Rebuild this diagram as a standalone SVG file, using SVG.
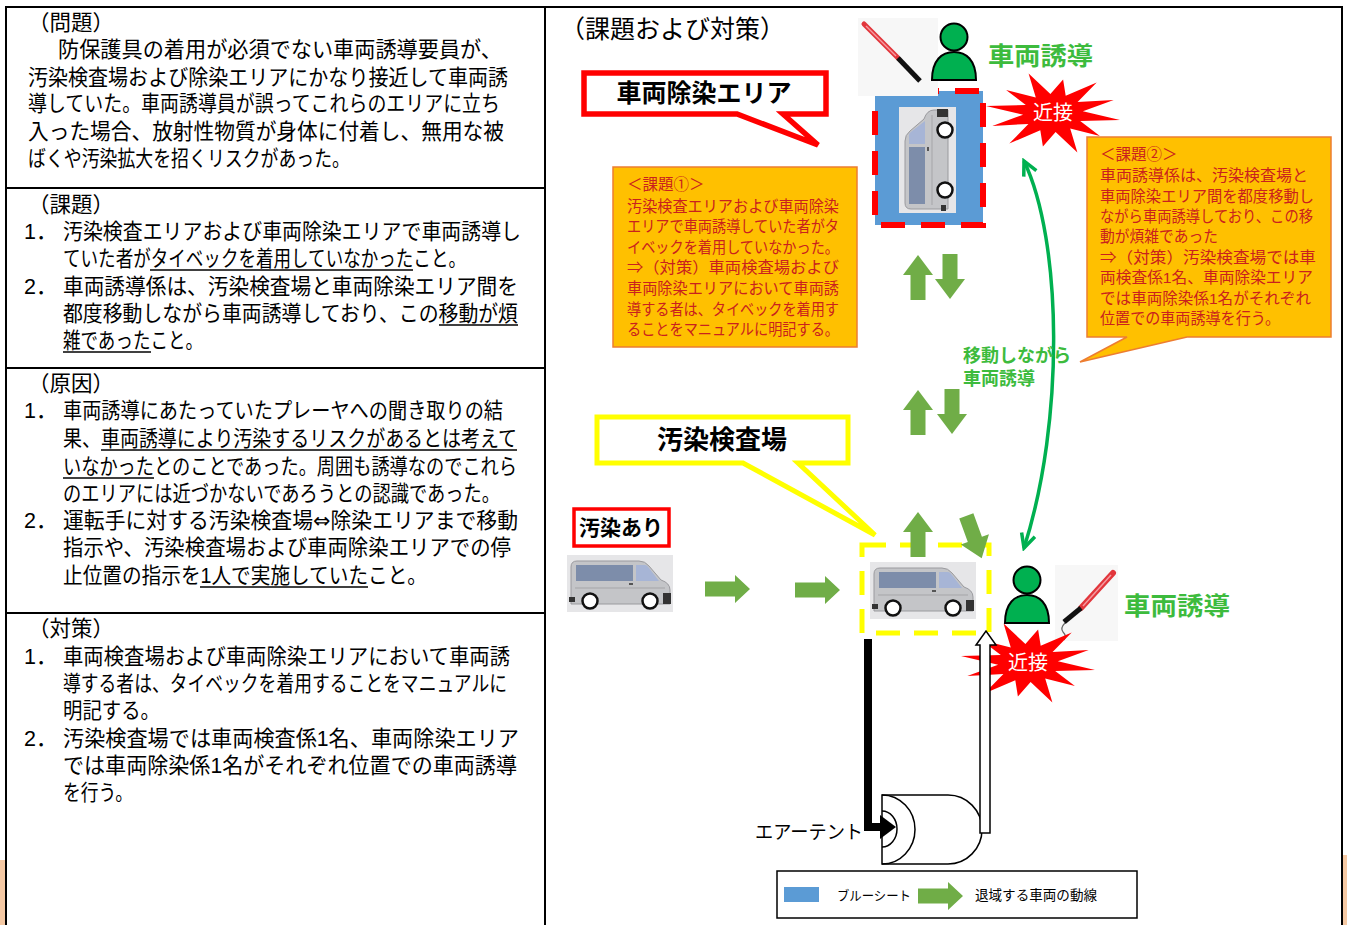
<svg xmlns="http://www.w3.org/2000/svg" width="1347" height="925" viewBox="0 0 1347 925">
<style>
  text { font-family: "Liberation Sans", "Noto Sans CJK JP", sans-serif; }
  .sym { font-family: "DejaVu Sans", "Noto Sans CJK JP", sans-serif; }
  .lt { font-size: 21.5px; fill: #000; }
  .ul { stroke: #000; stroke-width: 1.3; }
  .ob { font-size: 15.5px; fill: #C9211E; }
  .gt { font-weight: bold; fill: #3DBB3D; }
  .bt { font-weight: bold; fill: #000; }
  .frame { stroke: #000; stroke-width: 2; fill: none; }
  .blk { fill: #70AD47; }
  .person { fill: #00B050; stroke: #000; stroke-width: 2; }
  .burst { fill: #FF0000; }
  .bursttxt { font-size: 20px; fill: #fff; text-anchor: middle; }
  .obox { fill: #FFC000; stroke: #ED7D31; stroke-width: 1.5; }
</style>
<defs>
  <marker id="gah" viewBox="0 0 20 20" refX="17" refY="10" markerWidth="20" markerHeight="20" markerUnits="userSpaceOnUse" orient="auto-start-reverse">
    <path d="M3,3 L17,10 L3,17" fill="none" stroke="#00B050" stroke-width="3.5"/>
  </marker>
  <!-- side view of a van, 106 x 57 -->
  <g id="van">
    <rect width="106" height="57" fill="#E6E6E8"/>
    <path d="M4,49 V12 Q4,6 10,6 H72 Q78,6 82,11 L94,25 Q103,28 103,35 V49 Z" fill="#C4C5C8" stroke="#9A9A9E" stroke-width="1"/>
    <path d="M9,10 H66 V26 H9 Z" fill="#7D8DAA"/>
    <path d="M69,10 H78 Q80,10 82,13 L92,26 H69 Z" fill="#A7B5D6"/>
    <rect x="62" y="28" width="4" height="2" fill="#555"/>
    <line x1="8" y1="33" x2="98" y2="33" stroke="#A5A5A8" stroke-width="1"/>
    <rect x="2" y="42" width="6" height="5" fill="#333"/>
    <rect x="96" y="38" width="8" height="11" fill="#333"/>
    <circle cx="23" cy="46" r="7.5" fill="#fff" stroke="#111" stroke-width="2.5"/>
    <circle cx="83" cy="46" r="7.5" fill="#fff" stroke="#111" stroke-width="2.5"/>
  </g>
  <polygon id="burst" points="67,7 27.2,8 46.9,23.1 17.2,15.6 24.4,39.5 2.6,18.9 -10.1,33.5 -12.7,17.2 -43.7,30.6 -24.6,10.9 -60.7,13 -29.9,1.7 -67,-7 -27.2,-8 -46.9,-23.1 -17.2,-15.6 -24.4,-39.5 -2.6,-18.9 10.1,-33.5 12.7,-17.2 43.7,-30.6 24.6,-10.9 60.7,-13 29.9,-1.7"/>
  <path id="upArrow" d="M15,0 L30,20 L22.5,20 L22.5,45 L7.5,45 L7.5,20 L0,20 Z"/>
  <path id="downArrow" d="M7.5,0 H22.5 V25 H30 L15,45 L0,25 H7.5 Z"/>
  <path id="rightArrow" d="M0,6.5 H30 V0 L45,14 L30,28 V21.5 H0 Z"/>
  <g id="person">
    <circle cx="0" cy="0" r="13.5"/>
    <path d="M-22,43 C-22,23 -12,15 0,15 C12,15 22,23 22,43 Z"/>
  </g>
</defs>

<rect width="1347" height="925" fill="#fff"/>
<!-- soft edge fragments outside the frame -->
<rect x="0" y="860" width="5" height="65" fill="#F5C9A4"/>
<rect x="1343" y="855" width="4" height="70" fill="#F5C9A4"/>

<!-- frame and panel dividers -->
<path class="frame" d="M6,925 V7 H1342 V925 M545,7 V925 M6,188 H545 M6,368 H545 M6,613 H545"/>

<!-- left panel: problem -->
<g id="section-problem">
  <text class="lt" x="28" y="30">（問題）</text>
  <text class="lt" x="58" y="57" textLength="444" lengthAdjust="spacingAndGlyphs">防保護具の着用が必須でない車両誘導要員が、</text>
  <text class="lt" x="28" y="85" textLength="480" lengthAdjust="spacingAndGlyphs">汚染検査場および除染エリアにかなり接近して車両誘</text>
  <text class="lt" x="28" y="111" textLength="472" lengthAdjust="spacingAndGlyphs">導していた。車両誘導員が誤ってこれらのエリアに立ち</text>
  <text class="lt" x="28" y="139" textLength="476" lengthAdjust="spacingAndGlyphs">入った場合、放射性物質が身体に付着し、無用な被</text>
  <text class="lt" x="28" y="166" textLength="322" lengthAdjust="spacingAndGlyphs">ばくや汚染拡大を招くリスクがあった。</text>
</g>

<!-- left panel: issues -->
<g id="section-issues">
  <text class="lt" x="28" y="212">（課題）</text>
  <text class="lt" x="24" y="239">1．</text>
  <text class="lt" x="63" y="239" textLength="458" lengthAdjust="spacingAndGlyphs">汚染検査エリアおよび車両除染エリアで車両誘導し</text>
  <text class="lt" x="63" y="266" textLength="403" lengthAdjust="spacingAndGlyphs">ていた者がタイベックを着用していなかったこと。</text>
  <text class="lt" x="24" y="294">2．</text>
  <text class="lt" x="63" y="294" textLength="455" lengthAdjust="spacingAndGlyphs">車両誘導係は、汚染検査場と車両除染エリア間を</text>
  <text class="lt" x="63" y="321" textLength="455" lengthAdjust="spacingAndGlyphs">都度移動しながら車両誘導しており、この移動が煩</text>
  <text class="lt" x="63" y="348" textLength="140" lengthAdjust="spacingAndGlyphs">雑であったこと。</text>
  <line class="ul" x1="150" y1="270" x2="413" y2="270"/>
  <line class="ul" x1="439" y1="325" x2="518" y2="325"/>
  <line class="ul" x1="63" y1="352" x2="151" y2="352"/>
</g>

<!-- left panel: causes -->
<g id="section-causes">
  <text class="lt" x="28" y="391">（原因）</text>
  <text class="lt" x="24" y="418">1．</text>
  <text class="lt" x="63" y="418" textLength="440" lengthAdjust="spacingAndGlyphs">車両誘導にあたっていたプレーヤへの聞き取りの結</text>
  <text class="lt" x="63" y="446" textLength="454" lengthAdjust="spacingAndGlyphs">果、車両誘導により汚染するリスクがあるとは考えて</text>
  <text class="lt" x="63" y="474" textLength="454" lengthAdjust="spacingAndGlyphs">いなかったとのことであった。周囲も誘導なのでこれら</text>
  <text class="lt" x="63" y="501" textLength="437" lengthAdjust="spacingAndGlyphs">のエリアには近づかないであろうとの認識であった。</text>
  <text class="lt" x="24" y="528">2．</text>
  <text class="lt sym" x="63" y="528" textLength="455" lengthAdjust="spacingAndGlyphs">運転手に対する汚染検査場⇔除染エリアまで移動</text>
  <text class="lt" x="63" y="555" textLength="448" lengthAdjust="spacingAndGlyphs">指示や、汚染検査場および車両除染エリアでの停</text>
  <text class="lt" x="63" y="583" textLength="364" lengthAdjust="spacingAndGlyphs">止位置の指示を1人で実施していたこと。</text>
  <line class="ul" x1="101" y1="450" x2="517" y2="450"/>
  <line class="ul" x1="63" y1="478" x2="154" y2="478"/>
  <line class="ul" x1="200" y1="587" x2="368" y2="587"/>
</g>

<!-- left panel: countermeasures -->
<g id="section-measures">
  <text class="lt" x="28" y="636">（対策）</text>
  <text class="lt" x="24" y="664">1．</text>
  <text class="lt" x="63" y="664" textLength="447" lengthAdjust="spacingAndGlyphs">車両検査場および車両除染エリアにおいて車両誘</text>
  <text class="lt" x="63" y="691" textLength="444" lengthAdjust="spacingAndGlyphs">導する者は、タイベックを着用することをマニュアルに</text>
  <text class="lt" x="63" y="718" textLength="97" lengthAdjust="spacingAndGlyphs">明記する。</text>
  <text class="lt" x="24" y="746">2．</text>
  <text class="lt" x="63" y="746" textLength="456" lengthAdjust="spacingAndGlyphs">汚染検査場では車両検査係1名、車両除染エリア</text>
  <text class="lt" x="63" y="773" textLength="454" lengthAdjust="spacingAndGlyphs">では車両除染係1名がそれぞれ位置での車両誘導</text>
  <text class="lt" x="63" y="800" textLength="70" lengthAdjust="spacingAndGlyphs">を行う。</text>
</g>

<!-- right panel -->
<text id="title" x="560" y="38" font-size="25">（課題および対策）</text>

<g id="callout-decon">
  <path d="M584,73 H826 V114 H783 L818,145 L737,114 H584 Z" fill="#fff" stroke="#FF0000" stroke-width="5.5"/>
  <text class="bt" x="704" y="102" font-size="25" text-anchor="middle">車両除染エリア</text>
</g>

<g id="note-issue1">
  <rect class="obox" x="613" y="167" width="244" height="180"/>
  <text class="ob" x="627" y="190">＜課題①＞</text>
  <text class="ob" x="627" y="212" textLength="212" lengthAdjust="spacingAndGlyphs">汚染検査エリアおよび車両除染</text>
  <text class="ob" x="627" y="232" textLength="212" lengthAdjust="spacingAndGlyphs">エリアで車両誘導していた者がタ</text>
  <text class="ob" x="627" y="253" textLength="212" lengthAdjust="spacingAndGlyphs">イベックを着用していなかった。</text>
  <text class="ob" x="627" y="273" textLength="212" lengthAdjust="spacingAndGlyphs">⇒（対策）車両検査場および</text>
  <text class="ob" x="627" y="294" textLength="212" lengthAdjust="spacingAndGlyphs">車両除染エリアにおいて車両誘</text>
  <text class="ob" x="627" y="315" textLength="212" lengthAdjust="spacingAndGlyphs">導する者は、タイベックを着用す</text>
  <text class="ob" x="627" y="335" textLength="212" lengthAdjust="spacingAndGlyphs">ることをマニュアルに明記する。</text>
</g>

<g id="note-issue2">
  <path class="obox" d="M1087,137 H1331 V337 H1187 L1080,362 L1127,337 H1087 Z"/>
  <text class="ob" x="1100" y="160">＜課題②＞</text>
  <text class="ob" x="1100" y="181" textLength="208" lengthAdjust="spacingAndGlyphs">車両誘導係は、汚染検査場と</text>
  <text class="ob" x="1100" y="202" textLength="214" lengthAdjust="spacingAndGlyphs">車両除染エリア間を都度移動し</text>
  <text class="ob" x="1100" y="222" textLength="213" lengthAdjust="spacingAndGlyphs">ながら車両誘導しており、この移</text>
  <text class="ob" x="1100" y="242" textLength="118" lengthAdjust="spacingAndGlyphs">動が煩雑であった</text>
  <text class="ob" x="1100" y="263" textLength="216" lengthAdjust="spacingAndGlyphs">⇒（対策）汚染検査場では車</text>
  <text class="ob" x="1100" y="283" textLength="213" lengthAdjust="spacingAndGlyphs">両検査係1名、車両除染エリア</text>
  <text class="ob" x="1100" y="304" textLength="211" lengthAdjust="spacingAndGlyphs">では車両除染係1名がそれぞれ</text>
  <text class="ob" x="1100" y="324" textLength="180" lengthAdjust="spacingAndGlyphs">位置での車両誘導を行う。</text>
</g>

<!-- decontamination area: blue sheet with a vehicle seen from the side, turned upright -->
<g id="decon-area">
  <rect x="875" y="91" width="108" height="134" fill="#5B9BD5" stroke="#FF0000" stroke-width="6" stroke-dasharray="24 16"/>
  <use href="#van" transform="translate(899,213) rotate(-90)"/>
</g>

<!-- guide at the decontamination area -->
<g id="guide-top">
  <rect x="858" y="18" width="80" height="78" fill="#F7F7F7"/>
  <line x1="864" y1="24" x2="898" y2="58" stroke="#E2363C" stroke-width="5" stroke-linecap="round"/>
  <line x1="866" y1="26" x2="896" y2="56" stroke="#F59AA0" stroke-width="1.5"/>
  <line x1="898" y1="58" x2="920" y2="81" stroke="#111" stroke-width="5"/>
  <use href="#person" class="person" transform="translate(954,37)"/>
  <text class="gt" x="988" y="65" font-size="25" textLength="105" lengthAdjust="spacingAndGlyphs">車両誘導</text>
</g>

<!-- inspection site callout -->
<g id="callout-inspection">
  <path d="M597,417 H848 V463 H798 L875,535 L743,463 H597 Z" fill="#fff" stroke="#FFFF00" stroke-width="5"/>
  <text class="bt" x="722" y="449" font-size="26" text-anchor="middle">汚染検査場</text>
</g>

<!-- contaminated vehicle arriving -->
<g id="vehicle-in">
  <rect x="574" y="509" width="95" height="37" fill="#fff" stroke="#FF0000" stroke-width="3.5"/>
  <text class="bt" x="621" y="535" font-size="21" text-anchor="middle">汚染あり</text>
  <use href="#van" x="567" y="555"/>
</g>

<!-- vehicle at the inspection site -->
<g id="inspection-site">
  <use href="#van" x="870" y="562"/>
  <rect x="862" y="545" width="127" height="88" fill="none" stroke="#FFFF00" stroke-width="5" stroke-dasharray="24 14"/>
</g>

<!-- vehicle movement arrows -->
<g id="flow-arrows" class="blk">
  <use href="#rightArrow" x="705" y="575"/>
  <use href="#rightArrow" x="795" y="576"/>
  <use href="#upArrow" x="903" y="512"/>
  <use href="#downArrow" transform="translate(974,537) rotate(-20) translate(-15,-22.5)"/>
  <use href="#upArrow" x="903" y="390"/>
  <use href="#downArrow" x="937" y="389"/>
  <use href="#upArrow" x="903" y="255"/>
  <use href="#downArrow" x="935" y="254"/>
</g>

<!-- guide moving between the two areas -->
<g id="guide-route">
  <path d="M1024,161 C1062,240 1065,420 1024,548" fill="none" stroke="#00B050" stroke-width="3.5" marker-start="url(#gah)" marker-end="url(#gah)"/>
  <text class="gt" x="963" y="362" font-size="18">移動しながら</text>
  <text class="gt" x="963" y="385" font-size="18">車両誘導</text>
</g>

<!-- guide at the inspection site -->
<g id="guide-bottom">
  <rect x="1055" y="565" width="63" height="76" fill="#F7F7F7"/>
  <line x1="1113" y1="573" x2="1081" y2="608" stroke="#E2363C" stroke-width="6" stroke-linecap="round"/>
  <line x1="1111" y1="575" x2="1083" y2="606" stroke="#F59AA0" stroke-width="1.5"/>
  <line x1="1081" y1="608" x2="1064" y2="622" stroke="#111" stroke-width="5"/>
  <path d="M1065,623 q-5,5 -2,9 q4,4 1,8" fill="none" stroke="#666" stroke-width="1.2"/>
  <use href="#person" class="person" transform="translate(1027,580)"/>
  <text class="gt" x="1124" y="615" font-size="25" textLength="106" lengthAdjust="spacingAndGlyphs">車両誘導</text>
</g>

<!-- proximity warnings -->
<g id="warn-top">
  <use href="#burst" class="burst" transform="translate(1053,113)"/>
  <text class="bursttxt" x="1053" y="120">近接</text>
</g>
<g id="warn-bottom">
  <use href="#burst" class="burst" transform="translate(1028,663)"/>
  <text class="bursttxt" x="1028" y="670">近接</text>
</g>

<!-- route through the air tent -->
<g id="air-tent">
  <path d="M868,639 V827 H882" fill="none" stroke="#000" stroke-width="8"/>
  <path d="M882,795 H948 A34,34.5 0 0 1 948,864 H882 Z" fill="#fff" stroke="#000" stroke-width="1.5"/>
  <path d="M882,795 A33,34.5 0 0 1 882,864" fill="none" stroke="#000" stroke-width="1.5"/>
  <path d="M882,811 A15,18 0 0 1 882,847" fill="none" stroke="#000" stroke-width="1.5"/>
  <path d="M880,815 L896,827 L880,839 Z" fill="#000"/>
  <path d="M980,833 H990 V645 H996 L986,631 L976,645 H980 Z" fill="#fff" stroke="#000" stroke-width="1.5"/>
  <text x="755" y="839" font-size="19" textLength="108" lengthAdjust="spacingAndGlyphs">エアーテント</text>
</g>

<!-- legend -->
<g id="legend">
  <rect x="777" y="871" width="360" height="47" fill="#fff" stroke="#000" stroke-width="1.5"/>
  <rect x="784" y="887" width="35" height="15" fill="#5B9BD5"/>
  <text x="837" y="900" font-size="13" textLength="74" lengthAdjust="spacingAndGlyphs">ブルーシート</text>
  <use href="#rightArrow" class="blk" x="918" y="882"/>
  <text x="975" y="900" font-size="13.5" textLength="122" lengthAdjust="spacingAndGlyphs">退域する車両の動線</text>
</g>
</svg>
